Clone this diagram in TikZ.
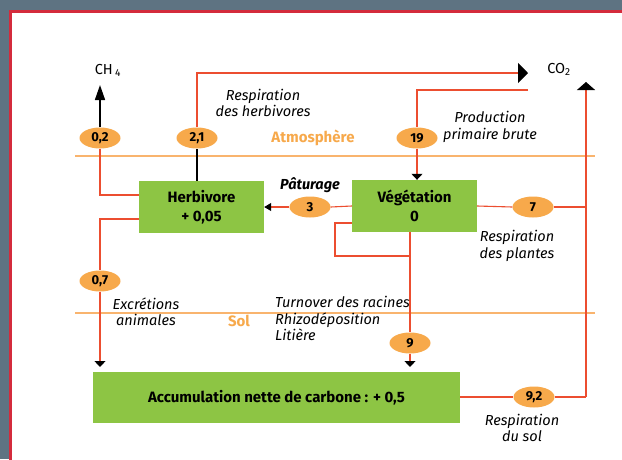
\documentclass[tikz,border=0pt]{standalone}
\usepackage{fontspec}
\setmainfont{Fira Sans}
\usetikzlibrary{arrows.meta,shapes.geometric}
\definecolor{bggray}{HTML}{5E7382}
\definecolor{bordred}{HTML}{D42B3C}
\definecolor{ofill}{HTML}{F7A94B}
\definecolor{oline}{HTML}{F9B46E}
\definecolor{conred}{HTML}{EC4E30}
\definecolor{boxgreen}{HTML}{8DC544}
\tikzset{
  box/.style={rectangle, fill=boxgreen, inner sep=0pt, align=center,
    font=\fontsize{15}{19}\selectfont\bfseries},
  flux/.style={ellipse, fill=ofill, inner sep=0pt, minimum width=41pt, minimum height=21pt,
    font=\fontsize{13}{15}\selectfont\bfseries},
  lbl/.style={inner sep=0pt, align=center, font=\fontsize{14.5}{16.5}\selectfont\itshape},
  zone/.style={inner sep=0pt, text=ofill, font=\fontsize{15}{17}\selectfont\bfseries},
  con/.style={draw=conred, line width=1.1pt},
  layer/.style={draw=oline, line width=2pt},
  bigtip/.style={-{Triangle[width=20pt,length=10pt,black]}},
  uptip/.style={-{Triangle[width=18pt,length=8pt,black]}},
  smalltip/.style={-{Triangle[width=11pt,length=6pt,black]}},
  sidetip/.style={-{Triangle[width=8pt,length=7pt,black]}}
}
\begin{document}
\begin{tikzpicture}[x=1pt,y=-1pt]
\useasboundingbox (0,0) rectangle (622,459);
\fill[bggray] (0,0) rectangle (622,459);
\begin{scope}
\clip (0,0) rectangle (622,459);
\draw[line width=3pt, draw=bordred, fill=white] (10.5,11) rectangle (660,500);
\end{scope}

% layers
\coordinate (atl) at (75,156);
\coordinate (atr) at (595,156);
\coordinate (sol) at (75,313);
\coordinate (sor) at (595,313);
\draw[layer] (atl) -- (atr);
\draw[layer] (sol) -- (sor);
\node[zone] (atm) at (313,138) {Atmosphère};
\node[zone] (soltxt) at (239,321) {Sol};

% boxes
\node[box, minimum width=125pt, minimum height=52pt] (herb) at (201.5,207) {Herbivore\\+ 0,05};
\node[box, minimum width=125pt, minimum height=52pt] (veg) at (414.5,206) {Végétation\\0};
\node[box, minimum width=367pt, minimum height=51pt] (acc) at (276.5,397.5) {Accumulation nette de carbone : + 0,5};

% flux ellipses
\node[flux] (e02) at (100,138) {0,2};
\node[flux] (e21) at (197,138) {2,1};
\node[flux] (e19) at (417,138) {19};
\node[flux] (e3) at (310,207) {3};
\node[flux] (e7) at (533,207) {7};
\node[flux] (e07) at (100,281) {0,7};
\node[flux] (e9) at (410,343) {9};
\node[flux] (e92) at (534,397) {9,2};

% gases
\node[inner sep=0pt, font=\fontsize{14.5}{16}\selectfont] (ch4) at (108,70) {CH\,\textsubscript{4}};
\node[inner sep=0pt, font=\fontsize{14.5}{16}\selectfont] (co2) at (559,69) {CO\textsubscript{2}};

% coordinates
\coordinate (ch4tip) at (100,85);
\coordinate (herbtop) at (197,73);
\coordinate (co2tip) at (528,73);
\coordinate (prodend) at (528,90);
\coordinate (prodc) at (417,90);
\coordinate (rtip) at (586,82);
\coordinate (rbot) at (586,397);
\coordinate (r7) at (586,207);
\coordinate (h02) at (100,195);
\coordinate (h07) at (100,219);
\coordinate (e07tip) at (100,367);
\coordinate (lp1) at (335,223);
\coordinate (lp2) at (335,256);
\coordinate (lp3) at (410,256);
\coordinate (vbot) at (410,232);
\coordinate (e9tip) at (410,367);

% connectors
\draw[line width=1.6pt, -{Triangle[width=10pt,length=15pt,black]}] (e02.north) -- (ch4tip);
\draw[con] (e02.south) -- (h02) -- (herb.west |- h02);
\draw[line width=1.1pt] (herb.north -| e21) -- (e21.south);
\draw[con, bigtip] (e21.north) -- (herbtop) -- (co2tip);
\draw[con] (prodend) -- (prodc) -- (e19.north);
\draw[con, smalltip] (e19.south) -- (veg.north -| e19);
\draw[con] (veg.west) -- (e3.east);
\draw[con, sidetip] (e3.west) -- (herb.east);
\draw[con] (veg.east) -- (e7.west);
\draw[con] (e7.east) -- (r7);
\draw[con, uptip] (rbot) -- (rtip);
\draw[con] (herb.west |- h07) -- (h07) -- (e07.north);
\draw[con, smalltip] (e07.south) -- (e07tip);
\draw[con] (veg.west |- lp1) -- (lp1) -- (lp2) -- (lp3);
\draw[con] (vbot) -- (e9.north);
\draw[con, smalltip] (e9.south) -- (e9tip);
\draw[con] (acc.east |- e92) -- (e92.west);
\draw[con] (e92.east) -- (rbot);

% labels
\node[lbl] (rh) at (263,103) {Respiration\\des herbivores};
\node[lbl] (pp) at (490,127) {Production\\primaire brute};
\node[inner sep=0pt, font=\fontsize{14.5}{16}\selectfont\bfseries\itshape] (pat) at (310,185) {Pâturage};
\node[lbl] (rp) at (517,246) {Respiration\\des plantes};
\node[lbl] (ex) at (146,312) {Excrétions\\animales};
\node[lbl, align=left, anchor=north west] (tr) at (275,296) {Turnover des racines\\Rhizodéposition\\Litière};
\node[lbl] (rs) at (522,428) {Respiration\\du sol};
\end{tikzpicture}
\end{document}
